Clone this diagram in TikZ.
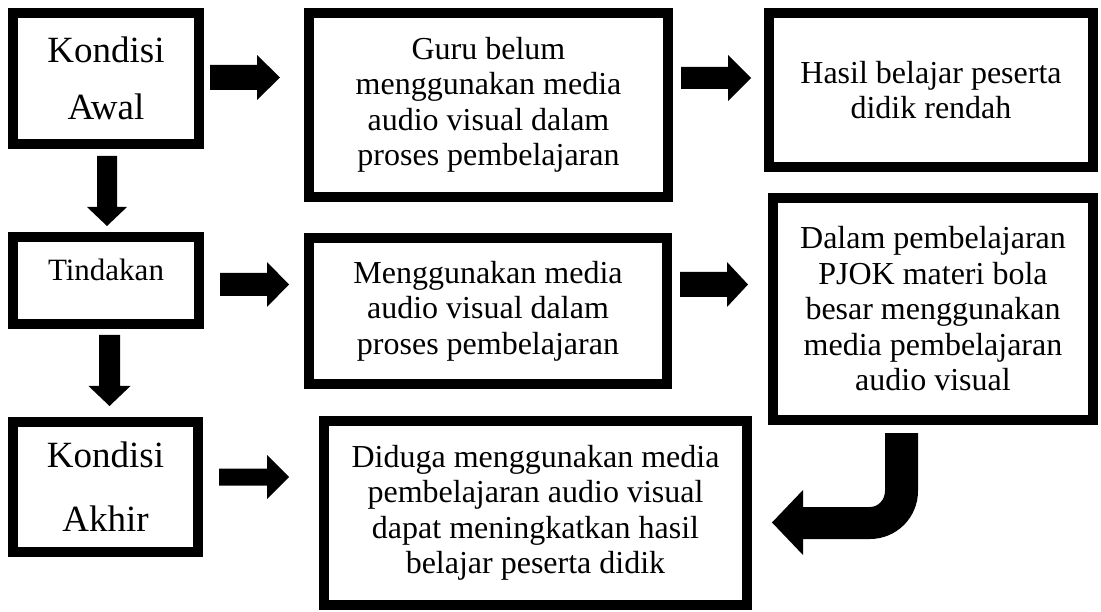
\documentclass[tikz,border=0pt]{standalone}
\usepackage{fontspec}
\setmainfont{Liberation Serif}
\usetikzlibrary{calc}
% horizontal block arrow: #1 start, #2 shaft length, #3 total length, #4 shaft half width, #5 head half width
\newcommand\harr[5]{\fill #1 ++(0,-#4) -- ++(#2,0) -- ++(0,#4-#5) -- ++(#3-#2,#5) -- ++(#2-#3,#5) -- ++(0,#4-#5) -- ++(-#2,0) -- cycle;}
% vertical block arrow (downwards)
\newcommand\varr[5]{\fill #1 ++(-#4,0) -- ++(0,#2) -- ++(#4-#5,0) -- ++(#5,#3-#2) -- ++(#5,#2-#3) -- ++(#4-#5,0) -- ++(0,-#2) -- cycle;}
\begin{document}
\begin{tikzpicture}[x=1pt,y=-1pt,
  box/.style={draw=black, line width=10pt, inner sep=0pt, align=center,
    font=\fontsize{32}{35.5}\selectfont},
  blockarrow/.style={fill=black}]
\useasboundingbox (0,0) rectangle (1101,612);
\fill[white] (0,0) rectangle (1101,612);

% boxes (centre, size of the border's mid line)
\node[box, minimum width=186pt, minimum height=131pt,
  font=\fontsize{37}{57}\selectfont] (A) at (106,78.5) {Kondisi\\Awal};
\node[box, minimum width=359pt, minimum height=184pt] (B) at (488.5,105)
  {Guru belum\\menggunakan media\\audio visual dalam\\proses pembelajaran};
\node[box, minimum width=324pt, minimum height=154pt] (C) at (931,90)
  {Hasil belajar peserta\\didik rendah};
\node[box, minimum width=186pt, minimum height=87pt,
  font=\fontsize{31}{35}\selectfont, text height=21pt, text depth=21pt] (D) at (106,280.5) {Tindakan};
\node[box, minimum width=358pt, minimum height=146pt] (E) at (488,311)
  {Menggunakan media\\audio visual dalam\\proses pembelajaran};
\node[box, minimum width=320pt, minimum height=222pt] (F) at (933,309)
  {Dalam pembelajaran\\PJOK materi bola\\besar menggunakan\\media pembelajaran\\audio visual};
\node[box, minimum width=185pt, minimum height=130pt,
  font=\fontsize{37}{64}\selectfont] (G) at (105.5,487) {Kondisi\\Akhir};
\node[box, minimum width=423pt, minimum height=184pt] (H) at (535.5,513)
  {Diduga menggunakan media\\pembelajaran audio visual\\dapat meningkatkan hasil\\belajar peserta didik};

% block arrows
\harr{(210,77.5)}{47}{70}{12.5}{22.5}
\harr{(681,78)}{47}{70}{11}{23}
\harr{(220,284.5)}{47}{69}{11.5}{22.5}
\harr{(680,284.5)}{47}{68}{12.5}{22.5}
\harr{(219,477)}{48}{70}{8.5}{22}
\varr{(107,156)}{51}{70}{10}{20}
\varr{(109.5,335)}{51}{71}{10.5}{21}

% bent arrow from F down and left to H
\fill[blockarrow] (885,433) -- (918,433) -- (918,491)
  .. controls (918,517.5) and (896.5,539) .. (870,539)
  -- (803,539) -- (803,555) -- (772,522.5) -- (803,490) -- (803,507) -- (870,507)
  .. controls (878.5,507) and (885,499.5) .. (885,491) -- cycle;
\end{tikzpicture}
\end{document}
